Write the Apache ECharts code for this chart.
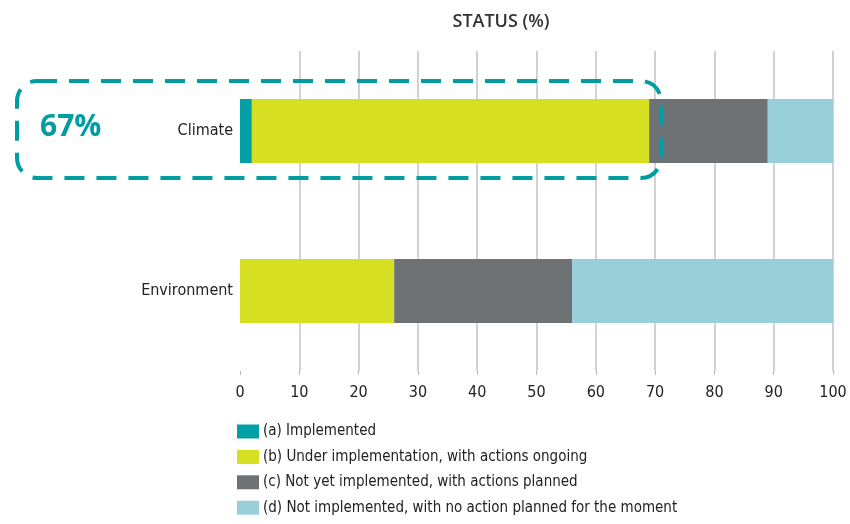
<!DOCTYPE html>
<html>
<head>
<meta charset="utf-8">
<script src="https://cdn.jsdelivr.net/npm/echarts@6/dist/echarts.min.js"></script>
<style>
  html, body { margin: 0; padding: 0; background: #fff; }
  #chart { width: 850px; height: 524px; }
</style>
</head>
<body>
<div id="chart"></div>
<script>
const categories = ['Climate', 'Environment']
const seriesNames = [
  '(a) Implemented',
  '(b) Under implementation, with actions ongoing',
  '(c) Not yet implemented, with actions planned',
  '(d) Not implemented, with no action planned for the moment'
]
const implemented = [2, 0]
const underImplementation = [67, 26]
const planned = [20, 30]
const noAction = [11, 44]
const xTicks = [0, 10, 20, 30, 40, 50, 60, 70, 80, 90, 100]

const COLORS = ['#00a0a6', '#d6df22', '#6e7275', '#99cfd8']
const NARROW = '"Liberation Sans Narrow", "DejaVu Sans Condensed", "Roboto Condensed", sans-serif'

const chart = echarts.init(document.getElementById('chart'))

const values = [implemented, underImplementation, planned, noAction]

const option = {
  animation: false,
  color: COLORS,
  title: {
    text: 'STATUS (%)',
    left: 496,
    top: 8,
    textAlign: 'center',
    textStyle: { fontFamily: '"Open Sans", sans-serif', fontWeight: 600, fontSize: 18, color: '#333' }
  },
  legend: {
    orient: 'vertical',
    left: 237,
    top: 424,
    padding: 0,
    width: 600,
    height: 100,
    itemWidth: 22,
    itemHeight: 14,
    itemGap: 10.4,
    icon: 'rect',
    selectedMode: false,
    textStyle: { fontFamily: NARROW, fontSize: 15, color: '#222', padding: [0, 0, 0, -1] },
    data: seriesNames
  },
  grid: { left: 240, right: 17, top: 51, bottom: 153, containLabel: false },
  xAxis: {
    type: 'value',
    min: 0,
    max: 100,
    interval: 10,
    axisLine: { show: false },
    axisTick: { show: true, length: 4, lineStyle: { color: '#bbb' } },
    axisLabel: {
      fontFamily: NARROW, fontSize: 16, color: '#222', margin: 14,
      formatter: v => (xTicks.includes(v) ? String(v) : '')
    },
    splitLine: { show: true, showMinLine: false, lineStyle: { color: '#d2d2d2', width: 2 } }
  },
  yAxis: {
    type: 'category',
    inverse: true,
    data: categories,
    axisLine: { show: false },
    axisTick: { show: false },
    axisLabel: { fontFamily: NARROW, fontSize: 16, color: '#222', margin: 7 }
  },
  series: seriesNames.map((name, i) => ({
    name,
    type: 'bar',
    stack: 'status',
    barWidth: '40%',
    data: values[i],
    itemStyle: { color: COLORS[i] },
    emphasis: { disabled: true }
  })),
  graphic: [
    {
      type: 'rect',
      shape: { x: 17, y: 81, width: 644, height: 97, r: 20 },
      style: { fill: 'none', stroke: '#009ea3', lineWidth: 4, lineDash: [20, 12] },
      z: 10
    },
    {
      type: 'text',
      left: 40,
      top: 112,
      style: {
        text: '67%',
        fill: '#009ea3',
        font: 'bold 30px "Open Sans", sans-serif'
      },
      z: 10
    }
  ]
}

chart.setOption(option)
</script>
</body>
</html>
